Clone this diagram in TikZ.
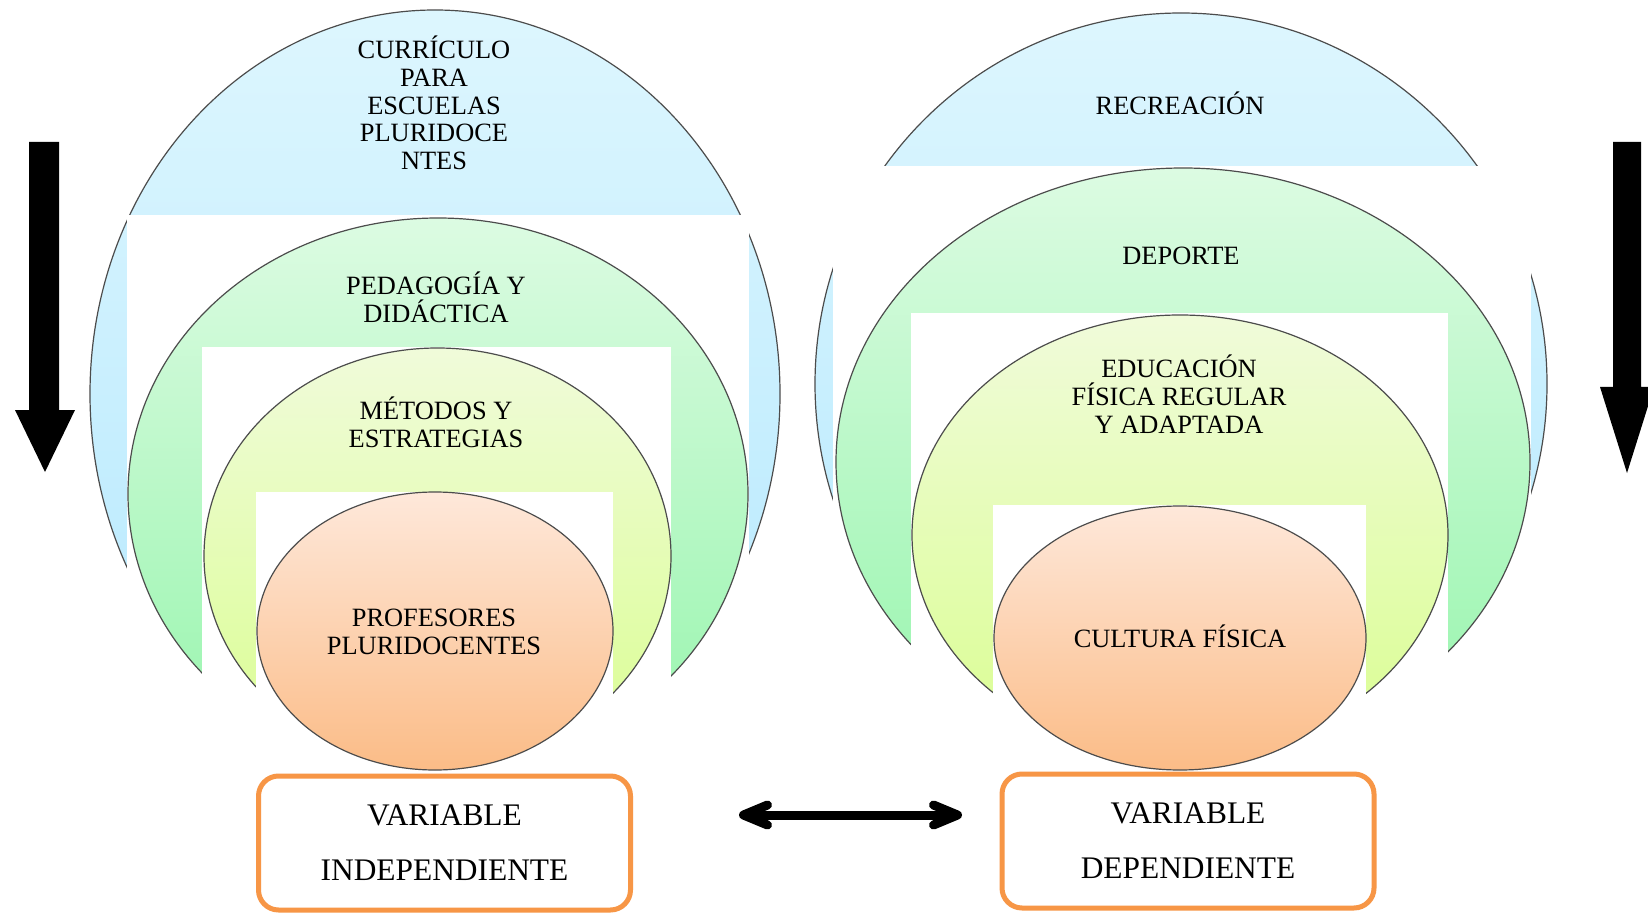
\documentclass[tikz,border=0pt]{standalone}
\usepackage{fontspec}
\setmainfont{Liberation Serif}
\usetikzlibrary{shapes.geometric,arrows.meta}
\definecolor{bTop}{RGB}{221,246,254}
\definecolor{bBot}{RGB}{180,232,254}
\definecolor{gTop}{RGB}{220,251,226}
\definecolor{gBot}{RGB}{150,245,172}
\definecolor{yTop}{RGB}{240,251,218}
\definecolor{yBot}{RGB}{218,254,145}
\definecolor{oTop}{RGB}{254,232,218}
\definecolor{oBot}{RGB}{251,188,135}
\definecolor{boxOrange}{RGB}{247,150,70}
\begin{document}
\begin{tikzpicture}[x=0.5pt,y=-0.5pt,
  ell/.style={ellipse, draw=black!70, line width=0.6pt, inner sep=0pt},
  blueell/.style={ell, top color=bTop, bottom color=bBot},
  greenell/.style={ell, top color=gTop, bottom color=gBot},
  yellowell/.style={ell, top color=yTop, bottom color=yBot},
  orangeell/.style={ell, top color=oTop, bottom color=oBot},
  mask/.style={fill=white},
  lbl/.style={align=center, inner sep=0pt, font=\fontsize{13.2pt}{13.85pt}\selectfont},
  varbox/.style={draw=boxOrange, line width=2.5pt, rounded corners=10pt, fill=white,
    minimum width=186pt, minimum height=67pt, align=center, inner sep=0pt,
    font=\fontsize{15.7pt}{27.5pt}\selectfont},
  blockarrow/.style={fill=black},
  dbl/.style={line width=4.5pt, {Straight Barb[round,length=12pt,width=10pt]}-{Straight Barb[round,length=12pt,width=10pt]}}
]
\useasboundingbox (0,0) rectangle (1648,914);
\fill[white] (0,0) rectangle (1648,914);

% ---------- left stack ----------
\node[blueell, minimum width=345pt, minimum height=384pt] (b1) at (435,394) {};
\fill[mask] (127,215) rectangle (749,914);
\node[greenell, minimum width=310pt, minimum height=276pt] (g1) at (438,494) {};
\fill[mask] (202,347) rectangle (671,914);
\node[yellowell, minimum width=233.5pt, minimum height=208pt] (y1) at (437.5,556) {};
\fill[mask] (256,492) rectangle (613,914);
\node[orangeell, minimum width=178pt, minimum height=139pt] (o1) at (435,631) {};

% ---------- right stack ----------
\node[blueell, minimum width=366pt, minimum height=371pt] (b2) at (1181,384) {};
\fill[mask] (833,166) rectangle (1531,914);
\node[greenell, minimum width=347pt, minimum height=294pt] (g2) at (1183,462) {};
\fill[mask] (911,313) rectangle (1448,914);
\node[yellowell, minimum width=268pt, minimum height=220pt] (y2) at (1180,535) {};
\fill[mask] (993,505) rectangle (1366,914);
\node[orangeell, minimum width=186pt, minimum height=132pt] (o2) at (1180,638) {};

% ---------- labels ----------
\node[lbl] (tb1) at (434,103) {CURRÍCULO\\PARA\\ESCUELAS\\PLURIDOCE\\NTES};
\node[lbl] (tg1) at (436,297) {PEDAGOGÍA Y\\DIDÁCTICA};
\node[lbl] (ty1) at (436,422) {MÉTODOS Y\\ESTRATEGIAS};
\node[lbl] (to1) at (434,632) {PROFESORES\\PLURIDOCENTES};

\node[lbl] (tb2) at (1180,103) {RECREACIÓN};
\node[lbl] (tg2) at (1181,256) {DEPORTE};
\node[lbl] (ty2) at (1179,394) {EDUCACIÓN\\FÍSICA REGULAR\\Y ADAPTADA};
\node[lbl] (to2) at (1180,636) {CULTURA FÍSICA};

% ---------- variable boxes ----------
\node[varbox] (vi) at (444.5,843) {VARIABLE\\INDEPENDIENTE};
\node[varbox] (vd) at (1188,841) {VARIABLE\\DEPENDIENTE};

% ---------- double arrow ----------
\coordinate (al) at (739,815);
\coordinate (ar) at (962,815);
\draw[dbl] (al) -- (ar);

% ---------- block arrows ----------
\fill[blockarrow] (29,142) -- (59,142) -- (59,410) -- (75,410) -- (45,472) -- (15,410) -- (29,410) -- cycle;
\fill[blockarrow] (1613,142) -- (1641,142) -- (1641,387) -- (1654,387) -- (1627,473) -- (1600,387) -- (1613,387) -- cycle;
\end{tikzpicture}
\end{document}
